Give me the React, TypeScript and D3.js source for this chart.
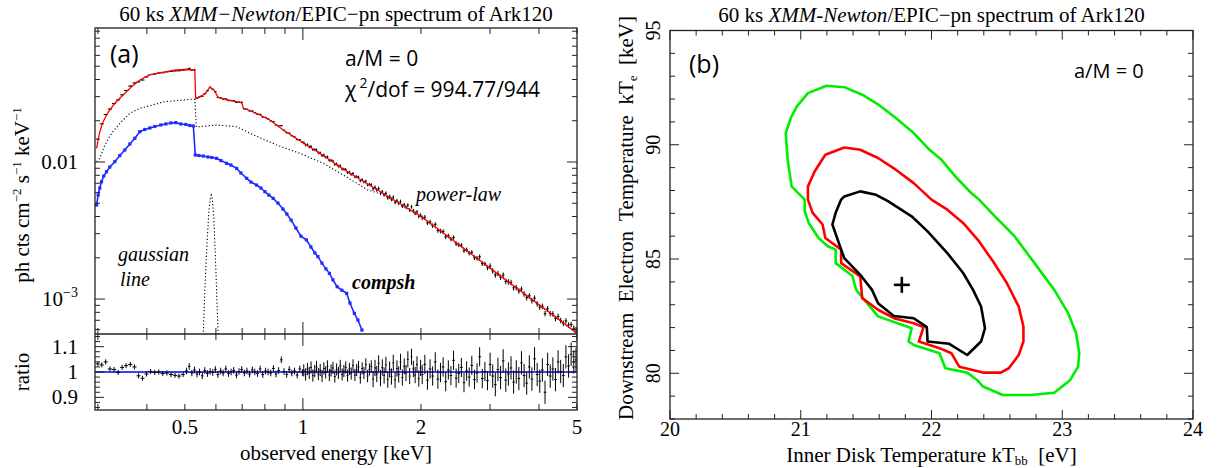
import React from "react";
import * as d3 from "d3";

// ---------- panel (a): unfolded spectrum ----------
// energies in keV, flux in ph cts cm^-2 s^-1 keV^-1

// total model (red)
const totalE = [0.2977, 0.3034, 0.3094, 0.3187, 0.3314, 0.3479, 0.3656, 0.3838, 0.4057, 0.4343, 0.4742, 0.5, 0.5256, 0.5301, 0.5327, 0.5461, 0.5623, 0.5791, 0.5929, 0.6079, 0.6324, 0.6776, 0.6992, 0.7045, 0.7323, 0.7768, 0.8237, 0.8906, 0.9541, 1.0219, 1.0921, 1.1719, 1.243, 1.3182, 1.4477, 1.6, 1.7676, 2.0058, 2.2365, 2.5119, 2.8288, 3.1437, 3.5156, 3.9393, 4.4463, 5.0];
const totalF = [0.01259, 0.01664, 0.01969, 0.02306, 0.02683, 0.03083, 0.03545, 0.03968, 0.04315, 0.04485, 0.04692, 0.04732, 0.04692, 0.04653, 0.02917, 0.02996, 0.03136, 0.0351, 0.03353, 0.02967, 0.02859, 0.02755, 0.02696, 0.02466, 0.02376, 0.02203, 0.02026, 0.01713, 0.01509, 0.0133, 0.01183, 0.01034, 0.00919, 0.00827, 0.00703, 0.00591, 0.00498, 0.00399, 0.00316, 0.00247, 0.00191, 0.00152, 0.0012, 0.000941, 0.000727, 0.000562];

// power-law component (dotted)
const powE = [0.2977, 0.3034, 0.3126, 0.3251, 0.3413, 0.362, 0.3838, 0.444, 0.5197, 0.5301, 0.5348, 0.6023, 0.6776, 0.7323, 0.8568, 0.9824, 1.1265, 1.267, 1.4631, 1.6, 1.7676, 2.0058, 2.5119, 3.1437, 3.9393, 5.0];
const powF = [0.01005, 0.01064, 0.0133, 0.0162, 0.01916, 0.02266, 0.02466, 0.02755, 0.02869, 0.0286, 0.01801, 0.01863, 0.0181, 0.0162, 0.0133, 0.01157, 0.00978, 0.00804, 0.00625, 0.00579, 0.00492, 0.00396, 0.00246, 0.00151, 0.000936, 0.000559];

// compsh component (blue)
const compE = [0.2977, 0.3005, 0.3034, 0.3065, 0.3106, 0.3156, 0.3218, 0.3314, 0.3413, 0.3514, 0.362, 0.3727, 0.3838, 0.3952, 0.4071, 0.4191, 0.4343, 0.4472, 0.4605, 0.4742, 0.4884, 0.5029, 0.5148, 0.5256, 0.5315, 0.5429, 0.5568, 0.5724, 0.586, 0.6023, 0.6178, 0.6388, 0.6551, 0.6776, 0.695, 0.7188, 0.7371, 0.7619, 0.7815, 0.8, 0.819, 0.84, 0.8635, 0.8892, 0.9103, 0.933, 0.9597, 0.9883, 1.0207, 1.0481, 1.0729, 1.0921, 1.1181, 1.1447, 1.1685, 1.1929, 1.2225, 1.2572, 1.2928, 1.3181, 1.3524, 1.3815, 1.4143];
const compF = [0.004854, 0.005743, 0.006458, 0.007182, 0.007904, 0.008497, 0.009194, 0.01005, 0.01115, 0.01224, 0.01353, 0.01489, 0.01664, 0.01727, 0.01771, 0.01816, 0.01863, 0.01895, 0.01927, 0.01937, 0.01895, 0.01879, 0.01847, 0.01831, 0.01125, 0.01115, 0.01106, 0.01088, 0.01079, 0.01064, 0.01025, 0.00978, 0.00951, 0.00899, 0.00831, 0.0076, 0.00714, 0.00679, 0.00646, 0.00607, 0.00574, 0.00543, 0.00502, 0.00454, 0.00417, 0.00377, 0.0033, 0.00288, 0.0027, 0.0024, 0.00217, 0.00204, 0.00183, 0.00166, 0.00154, 0.00138, 0.00123, 0.00116, 0.0011, 0.000935, 0.000786, 0.000703, 0.000594];

// gaussian line (dotted)
const gaussE = [0.557, 0.561, 0.566, 0.571, 0.576, 0.581, 0.584, 0.588, 0.593, 0.598, 0.603, 0.608];
const gaussF = [0.000546, 0.000984, 0.00177, 0.00293, 0.00446, 0.00555, 0.00574, 0.00528, 0.00378, 0.00209, 0.00107, 0.000546];

// data / model ratio
const ratioE = [
  0.3, 0.307, 0.314, 0.322, 0.33, 0.338, 0.346, 0.354, 0.363, 0.372, 0.381, 0.39, 0.399, 0.409, 0.419, 0.429, 0.439, 0.45, 0.461, 0.472, 0.483, 0.495,
  0.505, 0.513, 0.521, 0.529, 0.537, 0.545, 0.554, 0.562, 0.571, 0.58, 0.589, 0.598, 0.607, 0.617, 0.626, 0.636, 0.646, 0.656, 0.666, 0.677, 0.687, 0.698, 0.709, 0.72, 0.731, 0.743, 0.754, 0.766, 0.778, 0.79, 0.803, 0.815, 0.828, 0.841, 0.854, 0.867, 0.881, 0.895, 0.909, 0.923, 0.937, 0.952, 0.967, 0.982, 0.997,
  1.005, 1.016, 1.027, 1.038, 1.049, 1.06, 1.072, 1.083, 1.095, 1.107, 1.119, 1.131, 1.143, 1.155, 1.168, 1.18, 1.193, 1.206, 1.219, 1.232, 1.245, 1.259, 1.272, 1.286, 1.3, 1.314, 1.328, 1.342, 1.357, 1.371, 1.386, 1.401, 1.416, 1.431, 1.447, 1.462, 1.478, 1.494, 1.51, 1.527, 1.543, 1.56, 1.577, 1.594, 1.611, 1.628, 1.646, 1.664, 1.682, 1.7, 1.718, 1.737, 1.755, 1.774, 1.793, 1.813, 1.832, 1.852, 1.872, 1.892, 1.913, 1.933, 1.954, 1.975, 1.996,
  2.015, 2.046, 2.078, 2.11, 2.142, 2.175, 2.209, 2.243, 2.278, 2.313, 2.349, 2.385, 2.422, 2.459, 2.497, 2.536, 2.575, 2.615, 2.655, 2.696, 2.738, 2.78, 2.823, 2.867, 2.911, 2.956, 3.002, 3.048, 3.095, 3.143, 3.192, 3.241, 3.291, 3.342, 3.394, 3.446, 3.5, 3.554, 3.609, 3.665, 3.721, 3.779, 3.837, 3.897, 3.957, 4.018, 4.08, 4.144, 4.208, 4.273, 4.339, 4.406, 4.474, 4.543, 4.614, 4.685, 4.758, 4.831, 4.906, 4.97,
];
const ratioV = [
  1.032, 1.028, 1.04, 1.012, 1.01, 0.998, 1.018, 1.025, 1.03, 1.02, 0.985, 0.975, 0.992, 1.002, 0.998, 1.0, 0.994, 0.996, 0.99, 0.987, 0.984, 0.99,
  1.004, 1.022, 0.996, 1.008, 0.992, 1.0, 0.985, 1.006, 0.994, 1.002, 0.998, 1.01, 0.99, 1.004, 0.996, 1.012, 0.994, 1.0, 1.006, 0.988, 1.002, 1.01, 0.996, 1.004, 0.992, 1.008, 1.0, 0.994, 1.012, 0.99, 1.004, 1.0, 0.996, 1.014, 0.992, 1.006, 1.048, 1.002, 0.99, 1.01, 0.996, 1.004, 0.988, 1.012, 0.998,
  1.006, 0.99, 1.012, 0.996, 1.018, 0.986, 1.004, 1.02, 0.992, 1.008, 0.984, 1.014, 0.998, 1.022, 0.988, 1.006, 1.016, 0.982, 1.01, 0.996, 1.024, 0.99, 1.004, 1.018, 0.986, 1.012, 0.994, 1.026, 0.988, 1.008, 1.02, 0.978, 1.014, 0.996, 1.03, 0.984, 1.01, 1.022, 0.972, 1.016, 0.992, 1.034, 0.976, 1.018, 0.986, 1.028, 0.97, 1.01, 0.982, 1.036, 0.968, 1.014, 0.99, 1.04, 0.978, 1.022, 0.996, 1.05, 0.984, 1.06, 1.012, 0.988, 1.03, 0.974, 1.016,
  0.99, 1.03, 0.968, 1.012, 0.984, 1.04, 0.972, 0.998, 1.02, 0.962, 1.008, 0.986, 1.046, 0.976, 0.994, 1.018, 0.958, 1.004, 0.98, 1.026, 0.97, 0.996, 1.06, 0.974, 1.002, 0.966, 1.03, 0.984, 0.95, 1.01, 0.978, 1.044, 0.968, 0.992, 1.016, 0.96, 1.0, 0.974, 1.036, 0.986, 0.956, 1.02, 0.972, 1.052, 0.99, 0.964, 1.008, 0.92, 1.03, 0.984, 1.012, 0.97, 1.04, 1.002, 0.986, 1.06, 1.024, 1.07, 1.04, 1.048,
];
// 1-sigma error on the ratio, by energy band
const errEdge = [0.5, 1.0, 1.5, 2.0, 3.0, 5.1];
const errSize = [0.01, 0.013, 0.024, 0.032, 0.038, 0.046];

const energyTickLabels = [0.5, 1, 2, 5];
const ratioTickLabels = [0.9, 1, 1.1];

// ---------- panel (b): confidence contours (kT_bb [eV], kT_e [keV]) ----------
const contourOuter: [number, number][] = [[20.93, 88.18], [20.9, 89.34], [20.885, 90.51], [20.924, 91.17], [20.97, 91.68], [21.055, 92.26], [21.197, 92.58], [21.333, 92.52], [21.47, 92.19], [21.606, 91.71], [21.727, 91.17], [21.864, 90.51], [21.985, 89.78], [22.076, 89.34], [22.182, 88.62], [22.303, 87.89], [22.364, 87.6], [22.485, 86.87], [22.636, 85.99], [22.788, 84.82], [22.939, 83.65], [23.045, 82.63], [23.106, 81.75], [23.13, 80.88], [23.121, 80.29], [23.061, 79.71], [22.939, 79.15], [22.758, 79.05], [22.545, 79.05], [22.394, 79.42], [22.348, 79.71], [22.273, 80.03], [22.106, 80.22], [22.061, 80.88], [21.864, 81.24], [21.824, 81.39], [21.848, 81.97], [21.591, 82.49], [21.424, 83.65], [21.394, 84.27], [21.267, 84.82], [21.267, 85.41], [21.206, 85.56], [21.136, 85.92], [21.061, 86.58], [21.03, 87.09], [21.03, 87.6]];
const contourMiddle: [number, number][] = [[21.055, 88.18], [21.106, 88.83], [21.188, 89.56], [21.333, 89.88], [21.455, 89.78], [21.591, 89.42], [21.727, 88.91], [21.864, 88.32], [22.0, 87.6], [22.121, 87.16], [22.242, 86.58], [22.364, 85.77], [22.47, 84.9], [22.576, 83.95], [22.667, 82.92], [22.703, 82.05], [22.703, 81.39], [22.667, 80.8], [22.591, 80.22], [22.53, 80.03], [22.394, 80.03], [22.212, 80.29], [22.152, 80.88], [22.061, 81.1], [21.903, 81.39], [21.939, 82.02], [21.864, 82.19], [21.712, 82.41], [21.591, 82.78], [21.47, 83.29], [21.455, 84.24], [21.309, 84.82], [21.309, 85.41], [21.188, 85.92], [21.167, 86.51], [21.091, 87.02], [21.055, 87.6]];
const contourInner: [number, number][] = [[21.309, 87.6], [21.333, 87.74], [21.455, 87.96], [21.576, 87.81], [21.667, 87.53], [21.848, 86.87], [21.97, 86.21], [22.121, 85.26], [22.242, 84.39], [22.318, 83.65], [22.379, 82.92], [22.409, 81.97], [22.379, 81.39], [22.273, 80.8], [22.136, 81.29], [21.97, 81.39], [21.964, 82.02], [21.864, 82.41], [21.712, 82.51], [21.591, 83.07], [21.545, 83.65], [21.455, 84.31], [21.333, 85.04], [21.309, 85.41], [21.242, 86.51], [21.267, 87.02]];
const bestFit: [number, number] = [21.773, 83.87];

const tempXLabels = [20, 21, 22, 23, 24];
const tempYLabels = [80, 85, 90, 95];

const serif = "'Liberation Serif', 'Times New Roman', serif";
const sans = "'Open Sans', 'DejaVu Sans', sans-serif";
const frame = "#222";

const isDecade = (v: number) => Math.abs(Math.log10(v) - Math.round(Math.log10(v))) < 1e-6;

export default function App() {
  // panel (a) geometry
  const L = 95, R = 577, T = 28, S = 334, B = 410;
  const xE = d3.scaleLog().domain([0.295, 5]).range([L, R]);
  const yF = d3.scaleLog().domain([5.56e-4, 0.095]).range([S, T]);
  const yR = d3.scaleLinear().domain([0.85, 1.15]).range([B, S]);
  const model = d3.scaleLog().domain(totalE).range(totalF);

  // panel (b) geometry
  const L2 = 670, R2 = 1193, T2 = 30.5, B2 = 419;
  const xT = d3.scaleLinear().domain([20, 24]).range([L2, R2]);
  const yT = d3.scaleLinear().domain([78, 95]).range([B2, T2]);

  const specLine = d3
    .line<[number, number]>()
    .x((d) => xE(d[0]))
    .y((d) => yF(d[1]));
  const contourLine = d3
    .line<[number, number]>()
    .x((d) => xT(d[0]))
    .y((d) => yT(d[1]));

  const errFor = (e: number) => errSize[Math.min(d3.bisectLeft(errEdge, e), errSize.length - 1)];

  const bins = ratioE.map((e, i) => {
    const prev = i > 0 ? ratioE[i - 1] : (e * e) / ratioE[1];
    const next = i < ratioE.length - 1 ? ratioE[i + 1] : (e * e) / ratioE[i - 1];
    return { e, lo: Math.sqrt(prev * e), hi: Math.sqrt(e * next), r: ratioV[i], err: errFor(e) };
  });

  const xTicks = xE.ticks();
  const yTicks = yF.ticks();
  const rTicks = yR.ticks(15);
  const tXTicks = xT.ticks(20);
  const tYTicks = yT.ticks(17);

  const tick = (x1: number, y1: number, x2: number, y2: number, k: string) => (
    <line key={k} x1={x1} y1={y1} x2={x2} y2={y2} stroke={frame} strokeWidth={1} />
  );

  return (
    <svg width={1219} height={468} style={{ display: "block", position: "absolute", left: 0, top: 0, background: "#fff" }}>
      <defs>
        <clipPath id="clipTop">
          <rect x={L} y={T} width={R - L} height={S - T} />
        </clipPath>
        <clipPath id="clipRatio">
          <rect x={L} y={S} width={R - L} height={B - S} />
        </clipPath>
      </defs>

      {/* ================= panel (a) ================= */}
      <text x={(L + R) / 2} y={21} textAnchor="middle" fontFamily={serif} fontSize={21}>
        60 ks <tspan fontStyle="italic">XMM−Newton</tspan>/EPIC−pn spectrum of Ark120
      </text>

      <g clipPath="url(#clipTop)">
        {/* data points */}
        {bins.map((b, i) => {
          const f = model(b.e) * b.r;
          return (
            <g key={"d" + i} stroke="#000" strokeWidth={1}>
              <line x1={xE(b.lo)} x2={xE(b.hi)} y1={yF(f)} y2={yF(f)} />
              <line x1={xE(b.e)} x2={xE(b.e)} y1={yF(f * (1 + b.err))} y2={yF(f * (1 - b.err))} />
            </g>
          );
        })}
        <path d={specLine(d3.zip(powE, powF) as [number, number][]) ?? ""} fill="none" stroke="#000" strokeWidth={1.1} strokeDasharray="1.2 2.2" />
        <path d={specLine(d3.zip(gaussE, gaussF) as [number, number][]) ?? ""} fill="none" stroke="#000" strokeWidth={1.1} strokeDasharray="1.2 2.2" />
        <path d={specLine(d3.zip(compE, compF) as [number, number][]) ?? ""} fill="none" stroke="#1f2bff" strokeWidth={1.6} />
        {compE.map((e, i) => (
          <rect key={"c" + i} x={xE(e) - 1.6} y={yF(compF[i]) - 1.6} width={3.2} height={3.2} fill="#1f2bff" />
        ))}
        <path d={specLine(d3.zip(totalE, totalF) as [number, number][]) ?? ""} fill="none" stroke="#ff0000" strokeWidth={1.3} />
      </g>

      {/* ratio panel */}
      <g clipPath="url(#clipRatio)">
        <line x1={L} x2={R} y1={yR(1)} y2={yR(1)} stroke="#0000ff" strokeWidth={1.5} />
        {bins.map((b, i) => (
          <g key={"r" + i} stroke="#000" strokeWidth={1}>
            <line x1={xE(b.lo)} x2={xE(b.hi)} y1={yR(b.r)} y2={yR(b.r)} />
            <line x1={xE(b.e)} x2={xE(b.e)} y1={yR(b.r + b.err)} y2={yR(b.r - b.err)} />
          </g>
        ))}
      </g>

      {/* frames */}
      <rect x={L} y={T} width={R - L} height={B - T} fill="none" stroke={frame} strokeWidth={1.3} />
      <line x1={L} x2={R} y1={S} y2={S} stroke={frame} strokeWidth={1.3} />

      {/* energy ticks */}
      {xTicks.map((v, i) => {
        const x = xE(v);
        const len = isDecade(v) ? 12 : 6;
        return (
          <g key={"xt" + i}>
            {tick(x, T, x, T + len, "a")}
            {tick(x, S, x, S - len, "b")}
            {tick(x, S, x, S + len, "c")}
            {tick(x, B, x, B - len, "d")}
          </g>
        );
      })}
      {/* flux ticks */}
      {yTicks.map((v, i) => {
        const y = yF(v);
        const len = isDecade(v) ? 10 : 5;
        return (
          <g key={"yt" + i}>
            {tick(L, y, L + len, y, "a")}
            {tick(R, y, R - len, y, "b")}
          </g>
        );
      })}
      {/* ratio ticks */}
      {rTicks.map((v, i) => {
        const y = yR(v);
        const major = Math.abs(v * 10 - Math.round(v * 10)) < 1e-6;
        const len = major ? 9 : 5;
        return (
          <g key={"rt" + i}>
            {tick(L, y, L + len, y, "a")}
            {tick(R, y, R - len, y, "b")}
          </g>
        );
      })}

      {/* tick labels */}
      <g fontFamily={serif} fontSize={21}>
        <text x={78} y={yF(0.01) + 7} textAnchor="end">0.01</text>
        <text x={78} y={yF(0.001) + 7} textAnchor="end">
          10<tspan dy={-9} fontSize={14}>−3</tspan>
        </text>
        {ratioTickLabels.map((v) => (
          <text key={v} x={78} y={yR(v) + 7} textAnchor="end">{v}</text>
        ))}
        {energyTickLabels.map((v) => (
          <text key={v} x={xE(v)} y={434} textAnchor="middle">{v}</text>
        ))}
        <text x={(L + R) / 2} y={460} textAnchor="middle">observed energy [keV]</text>
        <text transform={`translate(29, ${(T + S) / 2 + 14}) rotate(-90)`} textAnchor="middle">
          ph cts cm<tspan dy={-8} fontSize={13}>−2</tspan>
          <tspan dy={8}> s</tspan>
          <tspan dy={-8} fontSize={13}>−1</tspan>
          <tspan dy={8}> keV</tspan>
          <tspan dy={-8} fontSize={13}>−1</tspan>
        </text>
        <text transform={`translate(29, ${(S + B) / 2}) rotate(-90)`} textAnchor="middle">ratio</text>
      </g>

      {/* annotations */}
      <text x={110} y={63} fontFamily={sans} fontSize={25}>(a)</text>
      <text x={345} y={66} fontFamily={sans} fontSize={21}>a/M = 0</text>
      <text x={345} y={97} fontFamily={sans} fontSize={21} style={{ whiteSpace: "pre" }}>
        χ<tspan dx={3} dy={-9} fontSize={14}>2</tspan>
        <tspan dy={9}>/dof = 994.77/944</tspan>
      </text>
      <g fontFamily={serif} fontSize={20} fontStyle="italic">
        <text x={416} y={201}>power-law</text>
        <text x={118} y={261}>gaussian</text>
        <text x={120} y={286}>line</text>
        <text x={352} y={289} fontWeight="bold">compsh</text>
      </g>

      {/* ================= panel (b) ================= */}
      <text x={(L2 + R2) / 2} y={22} textAnchor="middle" fontFamily={serif} fontSize={21}>
        60 ks <tspan fontStyle="italic">XMM-Newton</tspan>/EPIC−pn spectrum of Ark120
      </text>

      <path d={(contourLine(contourOuter) ?? "") + "Z"} fill="none" stroke="#00ee00" strokeWidth={2.6} strokeLinejoin="round" />
      <path d={(contourLine(contourMiddle) ?? "") + "Z"} fill="none" stroke="#ff0000" strokeWidth={2.6} strokeLinejoin="round" />
      <path d={(contourLine(contourInner) ?? "") + "Z"} fill="none" stroke="#000" strokeWidth={2.6} strokeLinejoin="round" />
      <g stroke="#000" strokeWidth={2.6}>
        <line x1={xT(bestFit[0]) - 8} x2={xT(bestFit[0]) + 8} y1={yT(bestFit[1])} y2={yT(bestFit[1])} />
        <line x1={xT(bestFit[0])} x2={xT(bestFit[0])} y1={yT(bestFit[1]) - 8} y2={yT(bestFit[1]) + 8} />
      </g>

      <rect x={L2} y={T2} width={R2 - L2} height={B2 - T2} fill="none" stroke={frame} strokeWidth={1.3} />
      {tXTicks.map((v, i) => {
        const x = xT(v);
        const len = Math.abs(v - Math.round(v)) < 1e-6 ? 9 : 5;
        return (
          <g key={"bx" + i}>
            {tick(x, B2, x, B2 - len, "a")}
            {tick(x, T2, x, T2 + len, "b")}
          </g>
        );
      })}
      {tYTicks.map((v, i) => {
        const y = yT(v);
        const len = v % 5 === 0 ? 9 : 5;
        return (
          <g key={"by" + i}>
            {tick(L2, y, L2 + len, y, "a")}
            {tick(R2, y, R2 - len, y, "b")}
          </g>
        );
      })}

      <g fontFamily={serif} fontSize={20}>
        {tempXLabels.map((v) => (
          <text key={v} x={xT(v)} y={436} textAnchor="middle">{v}</text>
        ))}
        {tempYLabels.map((v) => (
          <text key={v} transform={`translate(660, ${yT(v)}) rotate(-90)`} textAnchor="middle">{v}</text>
        ))}
      </g>
      <g fontFamily={serif} fontSize={21}>
        <text x={(L2 + R2) / 2} y={462} textAnchor="middle" style={{ whiteSpace: "pre" }}>
          Inner Disk Temperature kT<tspan fontSize={13} dy={3}>bb</tspan>
          <tspan dy={-3}>  [eV]</tspan>
        </text>
        <text transform={`translate(633, 218) rotate(-90)`} textAnchor="middle" style={{ whiteSpace: "pre" }}>
          Downstream  Electron  Temperature  kT<tspan fontSize={13} dy={4}>e</tspan>
          <tspan dy={-4}>  [keV]</tspan>
        </text>
      </g>

      <text x={689} y={73} fontFamily={sans} fontSize={25}>(b)</text>
      <text x={1074} y={78} fontFamily={sans} fontSize={20}>a/M = 0</text>
    </svg>
  );
}
